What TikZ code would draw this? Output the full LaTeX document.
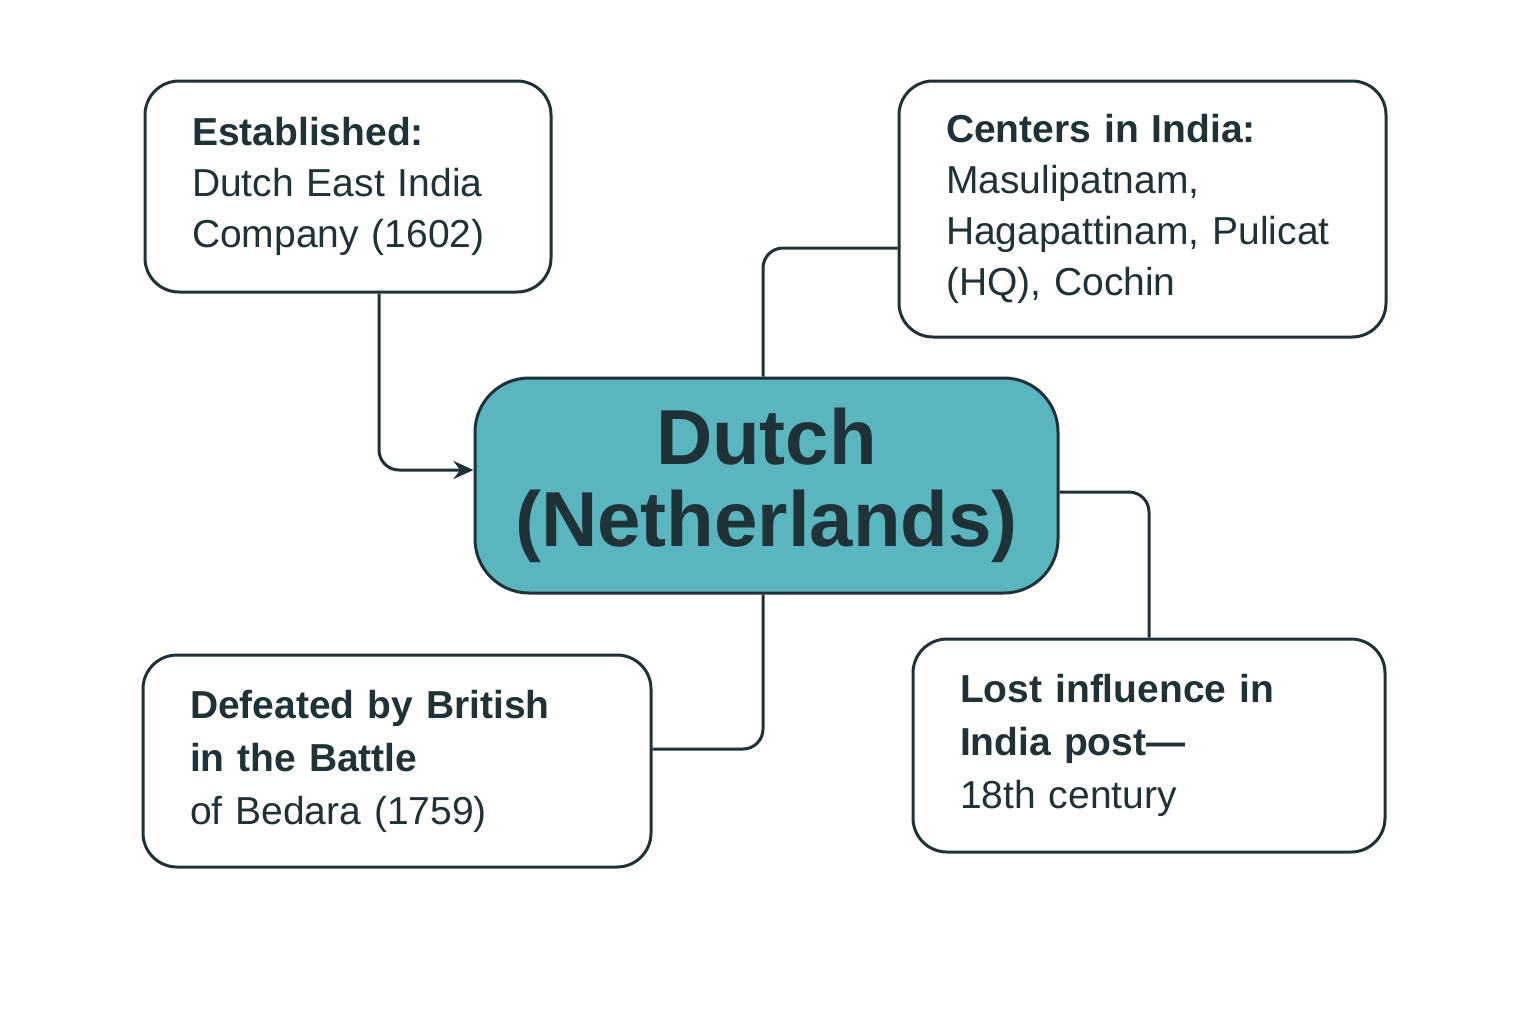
\documentclass[tikz,border=0pt]{standalone}
\usepackage{fontspec}
\setmainfont{Liberation Sans}
\usetikzlibrary{arrows.meta}
\definecolor{ink}{HTML}{1E3238}
\definecolor{teal}{HTML}{5AB5BF}
\begin{document}
\begin{tikzpicture}[x=0.5pt,y=-0.5pt,
  box/.style={draw=ink, line width=1.5pt, rounded corners=17pt, fill=white, align=left,
    text=ink, inner xsep=23.5pt, inner ysep=0pt, font=\fontsize{19.5}{25.5}\selectfont},
  conn/.style={draw=ink, line width=1.5pt, rounded corners=10pt},
  hub/.style={draw=ink, line width=1.5pt, rounded corners=27pt, fill=teal, align=center,
    text=ink, font=\fontsize{39}{41}\selectfont\bfseries}]
\useasboundingbox[fill=white] (0,0) rectangle (1536,1024);

\node[box, minimum width=203pt, minimum height=105.5pt, text width=156pt] (tl) at (348,186.5)
  {\textbf{Established:}\\Dutch East India\\Company (1602)};
\node[box, minimum width=243.5pt, minimum height=128pt, text width=196.5pt] (tr) at (1142.5,209)
  {\textbf{Centers in India:}\\Masulipatnam,\\Hagapattinam, Pulicat\\(HQ), Cochin};
\node[box, minimum width=254pt, minimum height=106pt, text width=207pt, font=\fontsize{19.5}{26.5}\selectfont] (bl) at (397,761)
  {\textbf{Defeated by British}\\\textbf{in the Battle}\\of Bedara (1759)};
\node[box, minimum width=236pt, minimum height=106.5pt, text width=189pt, font=\fontsize{19.5}{26.5}\selectfont] (br) at (1149,745.5)
  {\textbf{Lost influence in}\\\textbf{India post—}\\18th century};
\node[hub, minimum width=291.5pt, minimum height=107.5pt] (c) at (766.5,485.5)
  {Dutch\\(Netherlands)};

\coordinate (k1) at (379,470);
\coordinate (k2) at (763,248);
\coordinate (k3) at (1152,492);
\coordinate (k4) at (763,749);

\draw[conn, -{Stealth[length=10pt,width=9pt]}] (tl.south -| k1) |- (c.west |- k1);
\draw[conn] (c.north -| k2) |- (tr.west |- k2);
\draw[conn] (c.east |- k3) -| (br.north);
\draw[conn] (c.south -| k4) |- (bl.east |- k4);
\end{tikzpicture}
\end{document}
